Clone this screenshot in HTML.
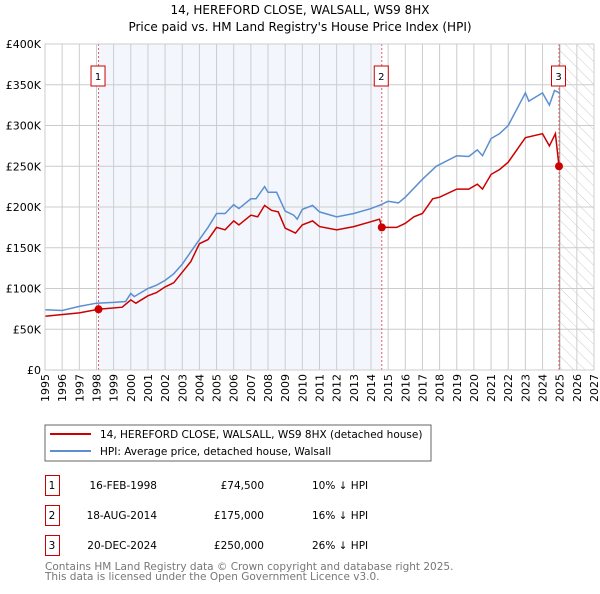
<!DOCTYPE html>
<html><head><meta charset="utf-8"><style>
body{margin:0;background:#fff;font-family:"DejaVu Sans","Liberation Sans",sans-serif;}
svg text{font-family:"DejaVu Sans","Liberation Sans",sans-serif;}
</style></head><body>
<svg id="c" width="600" height="590" viewBox="0 0 600 590">
<defs><pattern id="hatch" width="8" height="8" patternUnits="userSpaceOnUse" patternTransform="rotate(-45)"><line x1="0" y1="0" x2="0" y2="8" stroke="#ccc" stroke-width="1"/></pattern></defs>
<text x="300" y="14" text-anchor="middle" font-size="12">14, HEREFORD CLOSE, WALSALL, WS9 8HX</text>
<text x="300" y="31" text-anchor="middle" font-size="12">Price paid vs. HM Land Registry's House Price Index (HPI)</text>
<g id="plot"></g>
<rect x="45" y="425" width="386" height="36" fill="#fff" stroke="#666"/>
<line x1="50" y1="434" x2="91" y2="434" stroke="#cc0000" stroke-width="2"/>
<text x="100" y="438" font-size="10.5">14, HEREFORD CLOSE, WALSALL, WS9 8HX (detached house)</text>
<line x1="50" y1="451" x2="91" y2="451" stroke="#5b8fd0" stroke-width="2"/>
<text x="100" y="455" font-size="10.5">HPI: Average price, detached house, Walsall</text>
<g font-size="10.5">
<rect x="45.5" y="475.5" width="14" height="20" fill="none" stroke="#cc0000"/><text x="52" y="489" text-anchor="middle">1</text>
<text x="157" y="489" text-anchor="end">16-FEB-1998</text><text x="264" y="489" text-anchor="end">£74,500</text><text x="312" y="489">10% ↓ HPI</text>
<rect x="45.5" y="505.5" width="14" height="20" fill="none" stroke="#cc0000"/><text x="52" y="519" text-anchor="middle">2</text>
<text x="157" y="519" text-anchor="end">18-AUG-2014</text><text x="264" y="519" text-anchor="end">£175,000</text><text x="312" y="519">16% ↓ HPI</text>
<rect x="45.5" y="535.5" width="14" height="20" fill="none" stroke="#cc0000"/><text x="52" y="549" text-anchor="middle">3</text>
<text x="157" y="549" text-anchor="end">20-DEC-2024</text><text x="264" y="549" text-anchor="end">£250,000</text><text x="312" y="549">26% ↓ HPI</text>
</g>
<text x="45" y="570" font-size="10.5" fill="#777">Contains HM Land Registry data © Crown copyright and database right 2025.</text>
<text x="45" y="580" font-size="10.5" fill="#777">This data is licensed under the Open Government Licence v3.0.</text>
</svg>
<script>
const hpiYears=[1995,1996,1997,1998,1999,1999.7,2000,2000.2,2001,2001.5,2002,2002.5,2003,2003.5,2004,2004.5,2005,2005.5,2006,2006.3,2007,2007.3,2007.8,2008,2008.5,2009,2009.5,2009.7,2010,2010.6,2011,2012,2013,2014,2014.6,2015,2015.6,2016,2017,2017.8,2018,2019,2019.7,2020.2,2020.5,2021,2021.5,2022,2022.5,2023,2023.2,2024,2024.4,2024.7,2025];
const hpiValues=[74,73,78,82,83,84,94,90,100,104,110,118,130,145,160,175,192,192,203,198,210,210,225,218,218,195,190,185,197,202,194,188,192,198,203,207,205,212,234,250,252,263,262,270,263,284,290,300,320,340,330,340,325,343,340];
const propYears=[1995,1997,1998.12,1999.5,2000,2000.3,2001,2001.5,2002,2002.5,2003,2003.5,2004,2004.5,2005,2005.5,2006,2006.3,2007,2007.4,2007.8,2008.2,2008.6,2009,2009.6,2010,2010.6,2011,2012,2013,2014,2014.5,2014.63,2015.5,2016,2016.5,2017,2017.6,2018,2019,2019.7,2020.2,2020.5,2021,2021.5,2022,2022.5,2023,2024,2024.4,2024.75,2024.96];
const propValues=[66,70,74.5,77,86,82,91,95,102,107,120,133,155,160,175,172,183,178,190,188,202,196,194,174,168,178,183,176,172,176,182,185,175,175,180,188,192,210,212,222,222,228,222,240,246,255,270,285,290,275,290,250];
const saleYears=[1998.12,2014.63,2024.96];
const saleValues=[74.5,175,250];
const saleLabels=["1","2","3"];
const yTicks=[0,50,100,150,200,250,300,350,400];
const yTickLabels=["£0","£50K","£100K","£150K","£200K","£250K","£300K","£350K","£400K"];
const xTicks=[1995,1996,1997,1998,1999,2000,2001,2002,2003,2004,2005,2006,2007,2008,2009,2010,2011,2012,2013,2014,2015,2016,2017,2018,2019,2020,2021,2022,2023,2024,2025,2026,2027];

const L=45,R=594,T=44,B=370,x0=1995,x1=2027,ymax=400;
const X=v=>L+(v-x0)/(x1-x0)*(R-L);
const Y=v=>B-v/ymax*(B-T);
const NS="http://www.w3.org/2000/svg";
const g=document.getElementById('plot');
function mk(tag,attrs,parent){const e=document.createElementNS(NS,tag);for(const k in attrs)e.setAttribute(k,attrs[k]);(parent||g).appendChild(e);return e;}
let e;
e=mk('rect',{x:X(saleYears[0]),y:T,width:X(saleYears[1])-X(saleYears[0]),height:B-T,fill:'#eef3fc',opacity:0.7});


e=mk('rect',{x:X(2025),y:T,width:R-X(2025),height:B-T,fill:'url(#hatch)'});


xTicks.forEach(t=>{
  e=mk('line',{x1:X(t),x2:X(t),y1:T,y2:B,stroke:'#ccc','stroke-width':1});
  
  
  const tx=X(t)+4,ty=B+4;
  e=mk('text',{x:tx,y:ty,'font-size':11,'text-anchor':'end',transform:`rotate(-90 ${tx} ${ty})`});
  e.textContent=t;
  
  
});
yTicks.forEach((t,i)=>{
  e=mk('line',{x1:L,x2:R,y1:Y(t),y2:Y(t),stroke:'#ccc','stroke-width':1});
  
  
  e=mk('text',{x:L-4,y:Y(t)+4,'font-size':11,'text-anchor':'end'});
  e.textContent=yTickLabels[i];
  
  
});
e=mk('line',{x1:X(2025),x2:X(2025),y1:T,y2:B,stroke:'#999','stroke-width':1});


saleYears.forEach((s,i)=>{
  e=mk('line',{x1:X(s),x2:X(s),y1:T,y2:B,stroke:'#e06060','stroke-width':1,'stroke-dasharray':'2,2'});
  
  
  e=mk('rect',{x:X(s)-7.5,y:66,width:14,height:20,fill:'#fff',stroke:'#cc0000'});
  
  
  e=mk('text',{x:X(s)-0.5,y:80,'font-size':10,'text-anchor':'middle'});
  e.textContent=saleLabels[i];
  
  
});
const pts=(xs,ys)=>xs.map((v,i)=>X(v).toFixed(1)+','+Y(ys[i]).toFixed(1)).join(' ');
e=mk('polyline',{points:pts(hpiYears,hpiValues),fill:'none',stroke:'#5b8fd0','stroke-width':1.5});


e=mk('polyline',{points:pts(propYears,propValues),fill:'none',stroke:'#cc0000','stroke-width':1.5});


saleYears.forEach((s,i)=>{
  e=mk('circle',{cx:X(s),cy:Y(saleValues[i]),r:4,fill:'#cc0000'});
  
  
});
e=mk('rect',{x:L,y:T,width:R-L,height:B-T,fill:'none',stroke:'#ccc'});


</script>
</body></html>
